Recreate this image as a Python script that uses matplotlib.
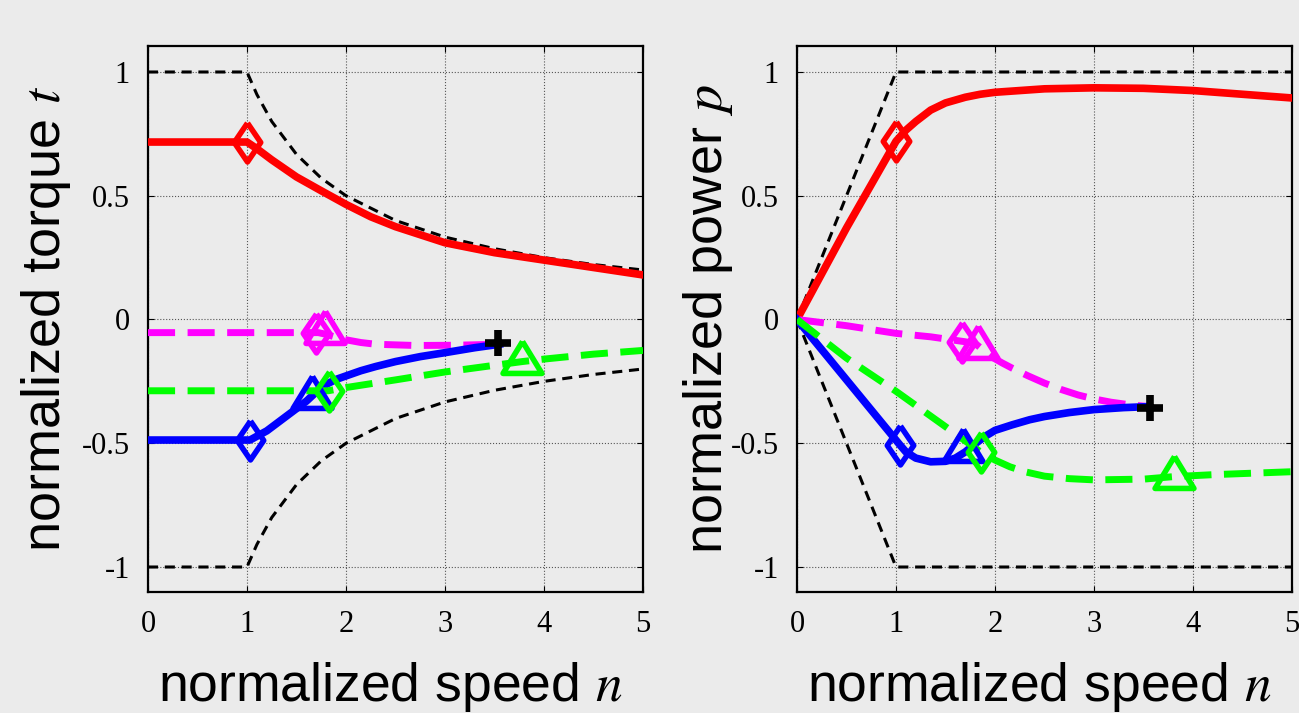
import numpy as np
import matplotlib
matplotlib.use("Agg")
import matplotlib.pyplot as plt

# =========================
# DATA
# =========================
# --- torque panel ---
n_lim = [0, 1, 1.1, 1.25, 1.5, 1.75, 2, 2.5, 3, 3.5, 4, 4.5, 5]
t_lim_up = [1, 1, 0.909, 0.8, 0.667, 0.571, 0.5, 0.4, 0.333, 0.286, 0.25, 0.222, 0.2]
t_lim_lo = [-1, -1, -0.909, -0.8, -0.667, -0.571, -0.5, -0.4, -0.333, -0.286, -0.25, -0.222, -0.2]

n_red_t = [0, 1, 1.1, 1.25, 1.5, 1.75, 2, 2.25, 2.5, 3, 3.5, 4, 4.5, 5]
t_red = [0.717, 0.717, 0.69, 0.645, 0.576, 0.52, 0.465, 0.415, 0.375, 0.31, 0.27, 0.24, 0.21, 0.18]

n_mag_t = [0, 1.72, 1.8, 1.9, 2.0, 2.15, 2.3, 2.7, 3.1, 3.55]
t_mag = [-0.053, -0.053, -0.06, -0.072, -0.082, -0.093, -0.1, -0.105, -0.104, -0.1]

n_blue_t = [0, 1.03, 1.2, 1.4, 1.6, 1.68, 1.8, 1.9, 2.0, 2.15, 2.3, 2.5, 2.75, 3.0, 3.3, 3.55]
t_blue = [-0.487, -0.487, -0.45, -0.39, -0.33, -0.30, -0.262, -0.242, -0.228, -0.207, -0.19, -0.17, -0.15, -0.134, -0.114, -0.1]

n_green_t = [0, 1.82, 2.0, 2.5, 3.0, 3.5, 3.78, 4.0, 4.5, 5.0]
t_green = [-0.288, -0.288, -0.275, -0.244, -0.212, -0.185, -0.17, -0.16, -0.14, -0.125]

# --- power panel ---
n_plim = [0, 1, 5]
p_lim_up = [0, 1, 1]
p_lim_lo = [0, -1, -1]

n_red_p = [0, 0.5, 1.0, 1.1, 1.2, 1.35, 1.5, 1.7, 1.85, 2.0, 2.5, 3.0, 3.5, 4.0, 4.5, 5.0]
p_red = [0, 0.37, 0.72, 0.765, 0.80, 0.846, 0.875, 0.898, 0.91, 0.918, 0.932, 0.936, 0.934, 0.925, 0.91, 0.895]

n_mag_p = [0, 0.5, 1.0, 1.35, 1.7, 1.81, 1.9, 1.97, 2.07, 2.17, 2.33, 2.5, 2.67, 2.84, 3.0, 3.17, 3.35, 3.55]
p_mag = [0, -0.025, -0.056, -0.07, -0.09, -0.1, -0.13, -0.152, -0.175, -0.196, -0.227, -0.257, -0.283, -0.305, -0.321, -0.334, -0.344, -0.352]

n_blue_p = [0, 1.04, 1.1, 1.2, 1.35, 1.5, 1.6, 1.7, 1.8, 1.9, 2.0, 2.17, 2.35, 2.5, 2.75, 3.0, 3.3, 3.55]
p_blue = [0, -0.507, -0.535, -0.56, -0.575, -0.573, -0.56, -0.535, -0.502, -0.472, -0.448, -0.426, -0.405, -0.392, -0.376, -0.364, -0.356, -0.352]

n_green_p = [0, 0.5, 1.0, 1.5, 1.85, 2.0, 2.15, 2.3, 2.5, 2.75, 3.0, 3.5, 3.8, 4.2, 5.0]
p_green = [0, -0.156, -0.29, -0.433, -0.534, -0.568, -0.595, -0.615, -0.633, -0.643, -0.648, -0.645, -0.635, -0.627, -0.615]

# marker points: (n, value)
mk_torque = {
    "red_D": (1.0, 0.717), "mag_D": (1.70, -0.055), "mag_T": (1.79, -0.03),
    "blue_D": (1.03, -0.487), "blue_T": (1.66, -0.293), "green_D": (1.83, -0.29),
    "green_T": (3.78, -0.15), "plus": (3.54, -0.096),
}
mk_power = {
    "red_D": (1.0, 0.72), "mag_D": (1.67, -0.09), "mag_T": (1.83, -0.09),
    "blue_D": (1.04, -0.507), "blue_T": (1.68, -0.507), "green_D": (1.86, -0.535),
    "green_T": (3.81, -0.616), "plus": (3.57, -0.358),
}

# =========================
# STYLE
# =========================
bg = "#ebebeb"
RED, MAG, BLUE, GREEN = "#ff0000", "#ff00ff", "#0000ff", "#00ff00"
plt.rcParams["mathtext.fontset"] = "stix"

diamond = [(0, 1), (0.68, 0), (0, -1), (-0.68, 0), (0, 1)]
triangle = [(0, 0.82), (1, -0.82), (-1, -0.82), (0, 0.82)]

fig = plt.figure(figsize=(12.99, 7.13), dpi=100, facecolor=bg)
ax1 = fig.add_axes([148 / 1299, 1 - 592 / 713, 495 / 1299, 546 / 713])
ax2 = fig.add_axes([797 / 1299, 1 - 592 / 713, 495 / 1299, 546 / 713])


def dashed(ax, x, y, color):
    ax.plot(x, y, color=color, lw=5, dashes=(3.9, 1.8), dash_capstyle="butt", zorder=3)


def limit(ax, x, y):
    ax.plot(x, y, color="k", lw=2.2, dashes=(3.3, 2.2), zorder=2)


def markers(ax, mk):
    kw = dict(markerfacecolor="none", markeredgewidth=4, markersize=28, zorder=5, linestyle="none")
    ax.plot(*mk["red_D"], marker=diamond, markeredgecolor=RED, **kw)
    ax.plot(*mk["mag_D"], marker=diamond, markeredgecolor=MAG, **kw)
    ax.plot(*mk["mag_T"], marker=triangle, markeredgecolor=MAG, **kw)
    ax.plot(*mk["blue_D"], marker=diamond, markeredgecolor=BLUE, **kw)
    ax.plot(*mk["blue_T"], marker=triangle, markeredgecolor=BLUE, **kw)
    ax.plot(*mk["green_D"], marker=diamond, markeredgecolor=GREEN, **kw)
    ax.plot(*mk["green_T"], marker=triangle, markeredgecolor=GREEN, **kw)
    ax.plot(*mk["plus"], marker="+", color="k", markersize=19, markeredgewidth=5.5,
            zorder=6, linestyle="none")


# =========================
# TORQUE PANEL
# =========================
limit(ax1, n_lim, t_lim_up)
limit(ax1, n_lim, t_lim_lo)
ax1.plot(n_red_t, t_red, color=RED, lw=5.5, zorder=3)
dashed(ax1, n_mag_t, t_mag, MAG)
ax1.plot(n_blue_t, t_blue, color=BLUE, lw=5.5, zorder=3)
dashed(ax1, n_green_t, t_green, GREEN)
markers(ax1, mk_torque)

# =========================
# POWER PANEL
# =========================
limit(ax2, n_plim, p_lim_up)
limit(ax2, n_plim, p_lim_lo)
ax2.plot(n_red_p, p_red, color=RED, lw=5.5, zorder=3)
dashed(ax2, n_mag_p, p_mag, MAG)
ax2.plot(n_blue_p, p_blue, color=BLUE, lw=5.5, zorder=3)
dashed(ax2, n_green_p, p_green, GREEN)
markers(ax2, mk_power)

for ax, ylab, ylx in [(ax1, r"normalized torque $t$", -0.152), (ax2, r"normalized power $p$", -0.125)]:
    ax.set_facecolor(bg)
    ax.set_xlim(0, 5)
    ax.set_ylim(-1.101, 1.105)
    ax.set_xticks([0, 1, 2, 3, 4, 5])
    ax.set_yticks([-1, -0.5, 0, 0.5, 1])
    ax.set_yticklabels(["-1", "-0.5", "0", "0.5", "1"])
    ax.grid(True, color="#555555", linestyle=":", linewidth=0.8)
    ax.tick_params(direction="in", top=True, right=True, length=4, width=0.8,
                   labelsize=22, pad=13)
    for lab in ax.get_xticklabels() + ax.get_yticklabels():
        lab.set_fontfamily("Liberation Serif")
    for sp in ax.spines.values():
        sp.set_linewidth(1.6)
    ax.set_xlabel(r"normalized speed $n$", fontsize=38.5, fontfamily="Liberation Sans")
    ax.xaxis.set_label_coords(0.49, -0.125)
    ax.set_ylabel(ylab, fontsize=39, fontfamily="Liberation Sans")
    ax.yaxis.set_label_coords(ylx, 0.5)

fig.savefig("out.png", dpi=100, facecolor=bg)
